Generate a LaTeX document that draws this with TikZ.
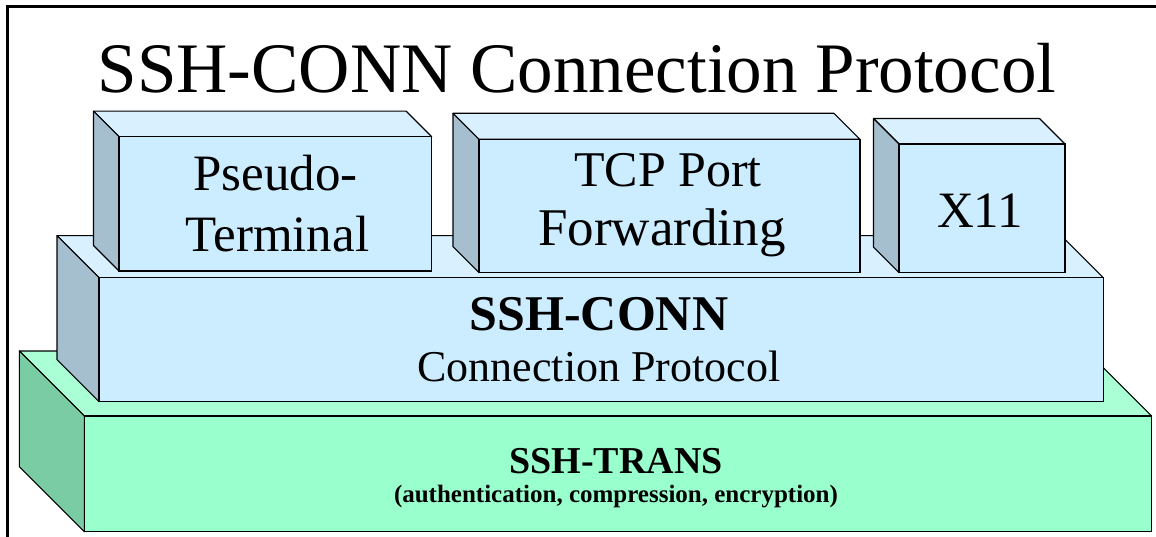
\documentclass[tikz,border=0pt]{standalone}
\usepackage{fontspec}
\setmainfont{Liberation Serif}
\definecolor{bfront}{HTML}{CCECFF}
\definecolor{btop}{HTML}{D8F0FF}
\definecolor{bside}{HTML}{A6BFCF}
\definecolor{gfront}{HTML}{99FFCC}
\definecolor{gtop}{HTML}{AAFFD4}
\definecolor{gside}{HTML}{7ACCA5}
\newcommand{\mycuboid}[8]{%
  % #1,#2 front top-left; #3,#4 front bottom-right; #5 depth; #6 front; #7 top; #8 side
  \filldraw[fill=#7,line width=1.1pt,line join=round] (#1,#2) -- ++(-#5,-#5) -- (#3-#5,#2-#5) -- (#3,#2) -- cycle;
  \filldraw[fill=#8,line width=1.1pt,line join=round] (#1,#2) -- ++(-#5,-#5) -- (#1-#5,#4-#5) -- (#1,#4) -- cycle;
  \filldraw[fill=#6,line width=1.1pt] (#1,#2) rectangle (#3,#4);
}
\tikzset{
  lbl/.style={anchor=base,inner sep=0pt,text=black},
}
\begin{document}
\begin{tikzpicture}[x=1pt,y=-1pt]
\useasboundingbox (0,0) rectangle (1156,537);
% frame (left and top lines)
\draw[line width=3pt] (7,537) -- (7,6.5) -- (1156,6.5);
% boxes
\mycuboid{84.3}{416}{1151.7}{531.7}{65}{gfront}{gtop}{gside}
\mycuboid{99}{277.7}{1103.3}{401.7}{42}{bfront}{btop}{bside}
\mycuboid{119}{136.7}{431.7}{271}{25.5}{bfront}{btop}{bside}
\mycuboid{479}{139.3}{860}{272.7}{26}{bfront}{btop}{bside}
\mycuboid{899}{144}{1065}{272.7}{25.5}{bfront}{btop}{bside}
% texts
\node[lbl,font=\fontsize{71}{80}\selectfont] (title) at (577,93) {SSH-CONN Connection Protocol};
\node[lbl,font=\fontsize{51}{60}\selectfont] (pt1) at (275.5,191) {Pseudo-};
\node[lbl,font=\fontsize{51}{60}\selectfont] (pt2) at (277.5,251.7) {Terminal};
\node[lbl,font=\fontsize{50}{60}\selectfont] (tcp1) at (668,187) {TCP Port};
\node[lbl,font=\fontsize{53}{60}\selectfont] (tcp2) at (662,246) {Forwarding};
\node[lbl,font=\fontsize{51}{60}\selectfont] (x11) at (980,228) {X11};
\node[lbl,font=\bfseries\fontsize{50}{60}\selectfont] (conn1) at (599,330) {SSH-CONN};
\node[lbl,font=\fontsize{44}{50}\selectfont] (conn2) at (599,381.7) {Connection Protocol};
\node[lbl,font=\bfseries\fontsize{38}{44}\selectfont] (trans1) at (616,473) {SSH-TRANS};
\node[lbl,font=\bfseries\fontsize{25}{30}\selectfont] (trans2) at (616,502) {(authentication, compression, encryption)};
\end{tikzpicture}
\end{document}
